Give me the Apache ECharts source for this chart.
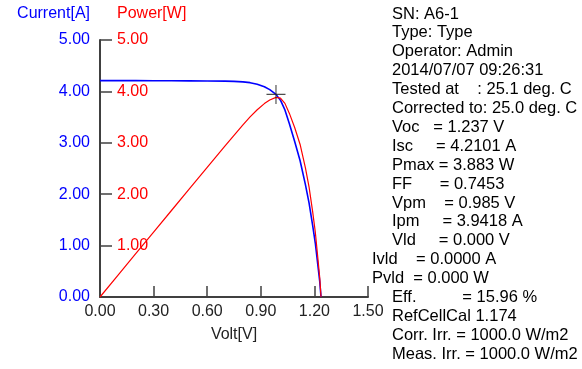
<!DOCTYPE html>
<html>
<head>
<meta charset="utf-8">
<script src="https://cdn.jsdelivr.net/npm/echarts@6/dist/echarts.min.js"></script>
<style>
html,body{margin:0;padding:0;background:#fff;}
#chart{width:582px;height:369px;}
</style>
</head>
<body>
<div id="chart"></div>
<script>
// ---- data ----
var volts    = [0.000, 0.100, 0.200, 0.300, 0.400, 0.500, 0.600, 0.700, 0.750, 0.800, 0.840, 0.880, 0.920, 0.950, 0.985, 1.010, 1.035, 1.060, 1.090, 1.120, 1.150, 1.170, 1.190, 1.205, 1.220, 1.230, 1.237];
var currents = [4.210, 4.210, 4.209, 4.208, 4.207, 4.205, 4.203, 4.199, 4.195, 4.185, 4.170, 4.140, 4.090, 4.035, 3.942, 3.830, 3.640, 3.370, 3.020, 2.650, 2.180, 1.830, 1.400, 1.050, 0.600, 0.300, 0.000];
var powers   = [0.000, 0.421, 0.842, 1.262, 1.683, 2.103, 2.522, 2.939, 3.146, 3.348, 3.503, 3.643, 3.763, 3.833, 3.883, 3.868, 3.767, 3.572, 3.292, 2.968, 2.507, 2.141, 1.666, 1.265, 0.732, 0.369, 0.000];
var mppPoint = [0.985, 3.9418];
var xTicks = [0.00, 0.30, 0.60, 0.90, 1.20, 1.50];
var yTicks = [0.00, 1.00, 2.00, 3.00, 4.00, 5.00];
var xName = 'Volt[V]';
var currentName = 'Current[A]';
var powerName = 'Power[W]';
var infoLines = [
  'SN: A6-1',
  'Type: Type',
  'Operator: Admin',
  '2014/07/07 09:26:31',
  'Tested at    : 25.1 deg. C',
  'Corrected to: 25.0 deg. C',
  'Voc   = 1.237 V',
  'Isc     = 4.2101 A',
  'Pmax = 3.883 W',
  'FF      = 0.7453',
  'Vpm    = 0.985 V',
  'Ipm     = 3.9418 A',
  'Vld     = 0.000 V',
  'Ivld    = 0.0000 A',
  'Pvld  = 0.000 W',
  'Eff.          = 15.96 %',
  'RefCellCal 1.174',
  'Corr. Irr. = 1000.0 W/m2',
  'Meas. Irr. = 1000.0 W/m2'
];
var outdentedLines = [13, 14];

// ---- chart ----
var FONT = '"Liberation Sans", Arial, sans-serif';
var AXIS_COLOR = '#404040';
var chart = echarts.init(document.getElementById('chart'), null, {renderer: 'canvas'});

var ivData = volts.map(function (v, i) { return [v, currents[i]]; });
var pvData = volts.map(function (v, i) { return [v, powers[i]]; });

var graphics = [
  {type: 'text', right: 582 - 90, top: 6, style: {text: currentName, fill: '#0000ff', font: '16px ' + FONT}},
  {type: 'text', left: 117, top: 6, style: {text: powerName, fill: '#ff0000', font: '16px ' + FONT}}
];
infoLines.forEach(function (t, i) {
  graphics.push({
    type: 'text',
    x: outdentedLines.indexOf(i) >= 0 ? 372 : 392,
    y: 14 + i * 18.9,
    style: {text: t, fill: '#000', font: '16.5px ' + FONT, textVerticalAlign: 'middle', verticalAlign: 'middle'}
  });
});

chart.setOption({
  animation: false,
  backgroundColor: '#fff',
  grid: {left: 100, right: 214, top: 40, bottom: 72, containLabel: false, outerBoundsMode: 'none'},
  xAxis: {
    type: 'value', min: xTicks[0], max: xTicks[xTicks.length - 1], interval: xTicks[1] - xTicks[0],
    name: xName, nameLocation: 'middle', nameGap: 30,
    nameTextStyle: {color: '#222', fontFamily: FONT, fontSize: 16},
    axisLine: {show: true, lineStyle: {color: AXIS_COLOR, width: 2}},
    axisTick: {show: true, inside: true, length: 11, lineStyle: {color: AXIS_COLOR, width: 1.5}},
    axisLabel: {color: '#222', fontFamily: FONT, fontSize: 16, margin: 7,
      formatter: function (v) { return v.toFixed(2); }},
    splitLine: {show: false}
  },
  yAxis: [
    {
      type: 'value', position: 'left', min: yTicks[0], max: yTicks[yTicks.length - 1], interval: yTicks[1] - yTicks[0],
      axisLine: {show: true, lineStyle: {color: AXIS_COLOR, width: 2}},
      axisTick: {show: false},
      axisLabel: {color: '#0000ff', fontFamily: FONT, fontSize: 16, margin: 10,
        formatter: function (v) { return v.toFixed(2); }},
      splitLine: {show: false}
    },
    {
      type: 'value', position: 'left', offset: 0, min: yTicks[0], max: yTicks[yTicks.length - 1], interval: yTicks[1] - yTicks[0],
      axisLine: {show: false},
      axisTick: {show: true, inside: true, length: 12, lineStyle: {color: AXIS_COLOR, width: 1.5}},
      axisLabel: {inside: true, color: '#ff0000', fontFamily: FONT, fontSize: 16, margin: 17, showMinLabel: false,
        formatter: function (v) { return v.toFixed(2); }},
      splitLine: {show: false}
    }
  ],
  series: [
    {type: 'line', yAxisIndex: 0, data: ivData, showSymbol: false, symbol: 'none',
      lineStyle: {color: '#0000ff', width: 1.6}, z: 2},
    {type: 'line', yAxisIndex: 1, data: pvData, showSymbol: false, symbol: 'none',
      lineStyle: {color: '#ff0000', width: 1.2}, z: 3},
    {type: 'scatter', yAxisIndex: 0, data: [mppPoint], symbolSize: 19,
      symbol: 'path://M-0.06,-1L0.06,-1L0.06,1L-0.06,1ZM-1,-0.06L1,-0.06L1,0.06L-1,0.06Z',
      itemStyle: {color: '#222'}, z: 5}
  ],
  graphic: graphics
});
</script>
</body>
</html>
